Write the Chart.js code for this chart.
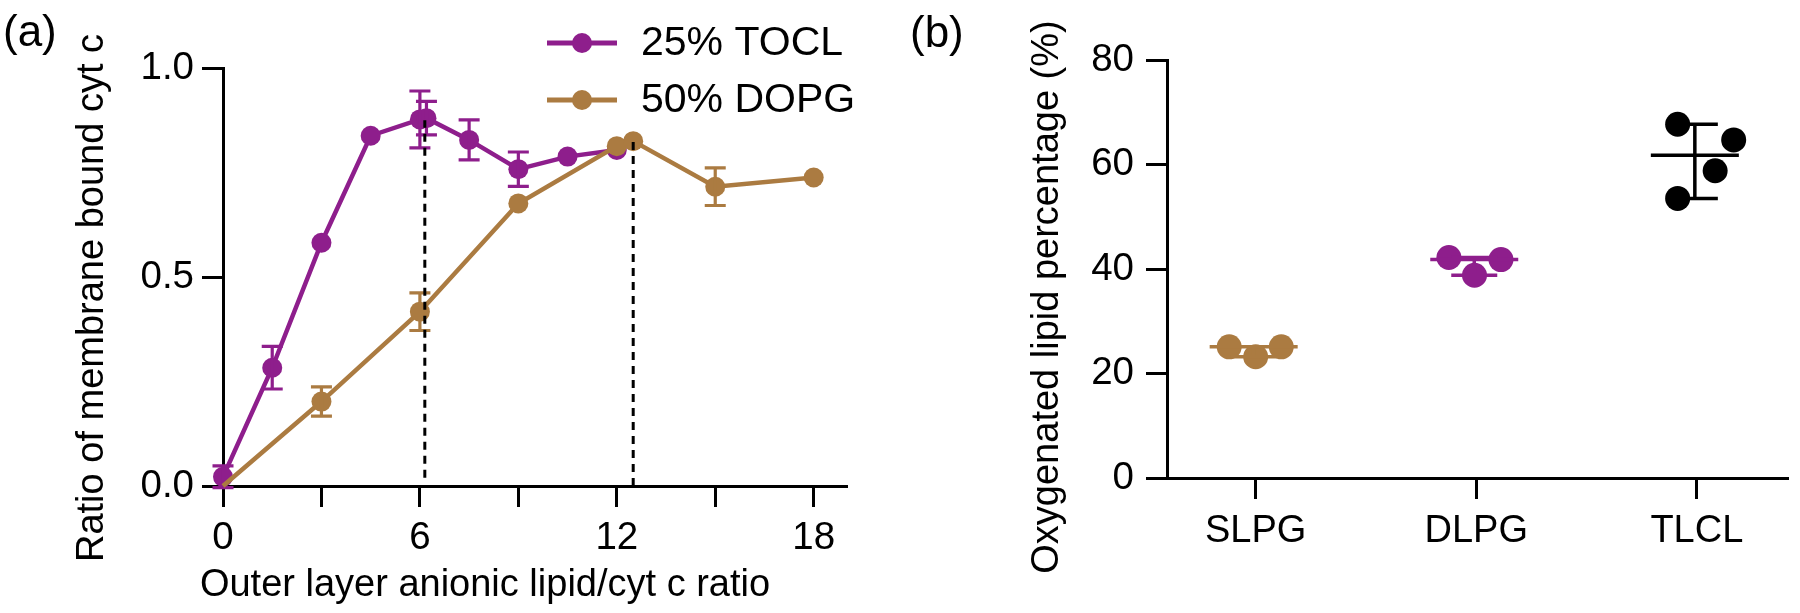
<!DOCTYPE html>
<html>
<head>
<meta charset="utf-8">
<script src="https://cdn.jsdelivr.net/npm/chart.js@4.4.1/dist/chart.umd.min.js"></script>
<style>
  html, body { margin: 0; padding: 0; background: #fff; }
  body { width: 1800px; height: 613px; position: relative; overflow: hidden; }
  canvas { position: absolute; top: 0; }
  #panelA { left: 0; }
  #panelB { left: 900px; }
</style>
</head>
<body>
<canvas id="panelA" width="900" height="613"></canvas>
<canvas id="panelB" width="900" height="613"></canvas>
<script>
// (a) bound cyt c vs lipid/protein ratio
const toclX = [0, 1.5, 3, 4.5, 6, 6.2, 7.5, 9, 10.5, 12];
const toclY = [0.022, 0.283, 0.582, 0.838, 0.877, 0.88, 0.828, 0.758, 0.788, 0.804];
const toclErr = [0.026, 0.051, 0, 0, 0.068, 0.04, 0.048, 0.041, 0, 0];

const dopgX = [0, 3, 6, 9, 12, 12.5, 15, 18];
const dopgY = [0, 0.202, 0.417, 0.676, 0.813, 0.825, 0.716, 0.738];
const dopgErr = [0, 0.035, 0.045, 0, 0, 0, 0.045, 0];

// dotted guide lines (x, from, to)
const guideX = [6.15, 12.5];
const guideFrom = [0.02, 0];
const guideTo = [0.875, 0.825];

const xTicksA = [0, 3, 6, 9, 12, 15, 18];
const yTicksA = [0, 0.5, 1];

// (b) oxygenated lipid percentage
const lipids = ['SLPG', 'DLPG', 'TLCL'];
const oxSLPG = [25.1, 23.2, 25.1];
const oxDLPG = [42.2, 38.8, 41.8];
const oxTLCL = [67.7, 64.7, 58.8, 53.5];
const yTicksB = [0, 20, 40, 60, 80];

const FONT = '"Liberation Sans", Arial, Helvetica, sans-serif';
const PURPLE = '#8E1E8C';
const BROWN = '#AB7B41';
const BLACK = '#000000';

Chart.defaults.font.family = FONT;
Chart.defaults.color = BLACK;

const pts = (xs, ys) => xs.map((x, i) => ({ x: x, y: ys[i] }));

// error bars drawn right after each dataset so layering follows the datasets
const errorBars = {
  id: 'errorBars',
  afterDatasetDraw(chart, args) {
    const ds = chart.data.datasets[args.index];
    if (!ds.errors) return;
    const { ctx } = chart;
    const x = chart.scales.x, y = chart.scales.y;
    ctx.save();
    ctx.strokeStyle = ds.borderColor;
    ctx.lineWidth = 3.2;
    ds.data.forEach((p, i) => {
      const e = ds.errors[i];
      if (!e) return;
      const px = x.getPixelForValue(p.x);
      const top = y.getPixelForValue(p.y + e);
      const bot = y.getPixelForValue(p.y - e);
      ctx.beginPath();
      ctx.moveTo(px, top); ctx.lineTo(px, bot);
      ctx.moveTo(px - 10.5, top); ctx.lineTo(px + 10.5, top);
      ctx.moveTo(px - 10.5, bot); ctx.lineTo(px + 10.5, bot);
      ctx.stroke();
    });
    ctx.restore();
  }
};

function axisStyle() {
  return {
    grid: { drawOnChartArea: false, drawTicks: true, tickLength: 21, color: BLACK, lineWidth: 3 },
    border: { display: true, color: BLACK, width: 3 }
  };
}

// ---------- panel (a) ----------
const textA = {
  id: 'textA',
  afterDraw(chart) {
    const ctx = chart.ctx;
    ctx.save();
    ctx.fillStyle = BLACK;
    ctx.font = '44px ' + FONT;
    ctx.textAlign = 'left';
    ctx.textBaseline = 'alphabetic';
    ctx.fillText('(a)', 3, 46);

    // axis titles
    ctx.font = '38px ' + FONT;
    ctx.textAlign = 'center';
    ctx.textBaseline = 'middle';
    ctx.fillText('Outer layer anionic lipid/cyt c ratio', 485, 586);
    ctx.save();
    ctx.translate(93, 298);
    ctx.rotate(-Math.PI / 2);
    ctx.fillText('Ratio of membrane bound cyt c', 0, 0);
    ctx.restore();

    // legend
    const rows = [[chart.data.datasets[2], 43], [chart.data.datasets[1], 100]];
    rows.forEach(([ds, yy]) => {
      ctx.strokeStyle = ds.borderColor;
      ctx.fillStyle = ds.borderColor;
      ctx.lineWidth = 5;
      ctx.beginPath();
      ctx.moveTo(547, yy); ctx.lineTo(617, yy);
      ctx.stroke();
      ctx.beginPath();
      ctx.arc(582, yy, 10, 0, Math.PI * 2);
      ctx.fill();
      ctx.fillStyle = BLACK;
      ctx.font = '41px ' + FONT;
      ctx.textAlign = 'left';
      ctx.fillText(ds.label, 641, yy + 1);
    });
    ctx.restore();
  }
};

const guideSets = guideX.map((gx, i) => ({
  label: 'guide' + i,
  data: [{ x: gx, y: guideFrom[i] }, { x: gx, y: guideTo[i] }],
  showLine: true,
  borderColor: BLACK,
  borderWidth: 3,
  borderDash: [8, 6],
  pointRadius: 0,
  order: 0,
  clip: false
}));

new Chart(document.getElementById('panelA'), {
  type: 'scatter',
  data: {
    datasets: [
      guideSets[0],
      {
        label: '50% DOPG',
        data: pts(dopgX, dopgY),
        errors: dopgErr,
        showLine: true,
        borderColor: BROWN,
        backgroundColor: BROWN,
        borderWidth: 4.5,
        pointRadius: c => (c.dataIndex === 0 ? 0 : 10),
        pointBorderWidth: 0,
        pointBackgroundColor: BROWN,
        order: 1,
        clip: false
      },
      {
        label: '25% TOCL',
        data: pts(toclX, toclY),
        errors: toclErr,
        showLine: true,
        borderColor: PURPLE,
        backgroundColor: PURPLE,
        borderWidth: 4.5,
        pointRadius: 10,
        pointBorderWidth: 0,
        pointBackgroundColor: PURPLE,
        order: 2,
        clip: false
      },
      guideSets[1]
    ]
  },
  options: {
    responsive: false,
    animation: false,
    events: [],
    devicePixelRatio: 1,
    layout: { padding: { left: 0, top: 68, right: 53.5, bottom: 0 } },
    plugins: { legend: { display: false }, tooltip: { enabled: false } },
    scales: {
      x: Object.assign(axisStyle(), {
        type: 'linear',
        min: 0,
        max: 19,
        afterBuildTicks: s => { s.ticks = xTicksA.map(v => ({ value: v })); },
        afterFit: s => { s.height = 127; },
        ticks: {
          autoSkip: false,
          maxRotation: 0,
          padding: 8,
          font: { size: 38.5 },
          color: BLACK,
          callback: v => (v % 6 === 0 ? String(v) : '')
        }
      }),
      y: Object.assign(axisStyle(), {
        type: 'linear',
        min: 0,
        max: 1,
        afterBuildTicks: s => { s.ticks = yTicksA.map(v => ({ value: v })); },
        afterFit: s => { s.width = 223; },
        ticks: { padding: 8, font: { size: 38.5 }, color: BLACK, callback: v => v.toFixed(1) }
      })
    }
  },
  plugins: [errorBars, textA]
});

// ---------- panel (b) ----------
const groupValues = [oxSLPG, oxDLPG, oxTLCL];
const groupColors = [BROWN, PURPLE, BLACK];
// beeswarm spread of the dots within each column
const swarmShift = [[-0.12, 0, 0.116], [-0.124, -0.008, 0.112], [-0.087, 0.167, 0.083, -0.087]];

const median = arr => {
  const s = arr.slice().sort((a, b) => a - b);
  const m = Math.floor(s.length / 2);
  return s.length % 2 ? s[m] : (s[m - 1] + s[m]) / 2;
};

const medianRange = {
  id: 'medianRange',
  afterDatasetsDraw(chart) {
    const { ctx } = chart;
    const x = chart.scales.x, y = chart.scales.y;
    ctx.save();
    ctx.lineWidth = 3.5;
    groupValues.forEach((vals, i) => {
      const px = x.getPixelForValue(i + 1) - 2;
      const pm = y.getPixelForValue(median(vals));
      const pLo = y.getPixelForValue(Math.min(...vals));
      const pHi = y.getPixelForValue(Math.max(...vals));
      ctx.strokeStyle = groupColors[i];
      ctx.beginPath();
      ctx.moveTo(px - 44, pm); ctx.lineTo(px + 44, pm);
      ctx.moveTo(px, pLo); ctx.lineTo(px, pHi);
      ctx.moveTo(px - 23, pLo); ctx.lineTo(px + 23, pLo);
      ctx.moveTo(px - 23, pHi); ctx.lineTo(px + 23, pHi);
      ctx.stroke();
    });
    ctx.restore();
  }
};

const textB = {
  id: 'textB',
  afterDraw(chart) {
    const ctx = chart.ctx;
    ctx.save();
    ctx.fillStyle = BLACK;
    ctx.font = '44px ' + FONT;
    ctx.textAlign = 'left';
    ctx.textBaseline = 'alphabetic';
    ctx.fillText('(b)', 10, 47);
    ctx.font = '38px ' + FONT;
    ctx.textAlign = 'center';
    ctx.textBaseline = 'middle';
    ctx.translate(148, 297);
    ctx.rotate(-Math.PI / 2);
    ctx.fillText('Oxygenated lipid percentage (%)', 0, 0);
    ctx.restore();
  }
};

new Chart(document.getElementById('panelB'), {
  type: 'scatter',
  data: {
    datasets: groupValues.map((vals, i) => ({
      label: lipids[i],
      data: vals.map((v, j) => ({ x: i + 1 + swarmShift[i][j], y: v })),
      pointRadius: 12.5,
      pointBorderWidth: 0,
      pointBackgroundColor: groupColors[i],
      backgroundColor: groupColors[i],
      clip: false
    }))
  },
  options: {
    responsive: false,
    animation: false,
    events: [],
    devicePixelRatio: 1,
    layout: { padding: { left: 0, top: 60, right: 3, bottom: 0 } },
    plugins: { legend: { display: false }, tooltip: { enabled: false } },
    scales: {
      x: Object.assign(axisStyle(), {
        type: 'linear',
        min: 0.598,
        max: 3.411,
        afterBuildTicks: s => { s.ticks = [1, 2, 3].map(v => ({ value: v })); },
        afterFit: s => { s.height = 135; },
        ticks: {
          autoSkip: false,
          maxRotation: 0,
          padding: 10,
          font: { size: 38 },
          color: BLACK,
          callback: v => lipids[v - 1]
        }
      }),
      y: Object.assign(axisStyle(), {
        type: 'linear',
        min: 0,
        max: 80,
        afterBuildTicks: s => { s.ticks = yTicksB.map(v => ({ value: v })); },
        afterFit: s => { s.width = 267; },
        ticks: { padding: 12, font: { size: 38.5 }, color: BLACK }
      })
    }
  },
  plugins: [medianRange, textB]
});
</script>
</body>
</html>
